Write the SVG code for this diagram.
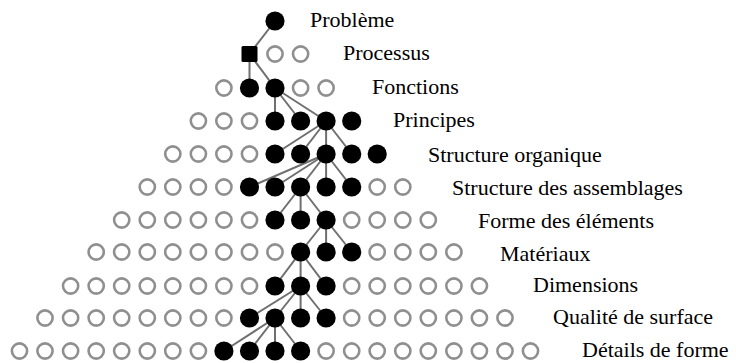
<svg xmlns="http://www.w3.org/2000/svg" xmlns:xlink="http://www.w3.org/1999/xlink" width="736" height="363" viewBox="0 0 736 363">
<style>
.h{fill:none;stroke:#8f8f8f;stroke-width:2.6}
.b{fill:#000}
.c{stroke:#6f6f6f;stroke-width:2;fill:none}
.t{font-family:"Liberation Serif","Times New Roman",serif;font-size:22px;fill:#000}
</style>
<defs>
<circle id="H" class="h" r="7.6"/>
<circle id="B" class="b" r="9.6"/>
</defs>
<rect width="736" height="363" fill="#fff"/>
<g id="connectors" class="c">
<line x1="275" y1="21" x2="249.5" y2="54"/>
<line x1="249.5" y1="54" x2="249.5" y2="88"/>
<line x1="249.5" y1="54" x2="275" y2="88"/>
<line x1="275" y1="88" x2="275" y2="121"/>
<line x1="275" y1="88" x2="300.6" y2="121"/>
<line x1="275" y1="88" x2="326.1" y2="121"/>
<line x1="326.1" y1="121" x2="275" y2="154"/>
<line x1="326.1" y1="121" x2="300.6" y2="154"/>
<line x1="326.1" y1="121" x2="326.1" y2="154"/>
<line x1="326.1" y1="121" x2="351.7" y2="154"/>
<line x1="326.1" y1="154" x2="249.5" y2="187"/>
<line x1="326.1" y1="154" x2="275" y2="187"/>
<line x1="326.1" y1="154" x2="300.6" y2="187"/>
<line x1="326.1" y1="154" x2="326.1" y2="187"/>
<line x1="326.1" y1="154" x2="351.7" y2="187"/>
<line x1="300.6" y1="187" x2="275" y2="220"/>
<line x1="300.6" y1="187" x2="300.6" y2="220"/>
<line x1="300.6" y1="187" x2="326.1" y2="220"/>
<line x1="326.1" y1="220" x2="300.6" y2="252"/>
<line x1="326.1" y1="220" x2="326.1" y2="252"/>
<line x1="326.1" y1="220" x2="351.7" y2="252"/>
<line x1="300.6" y1="252" x2="275" y2="286"/>
<line x1="300.6" y1="252" x2="300.6" y2="286"/>
<line x1="300.6" y1="252" x2="326.1" y2="286"/>
<line x1="300.6" y1="286" x2="249.5" y2="318"/>
<line x1="300.6" y1="286" x2="275" y2="318"/>
<line x1="300.6" y1="286" x2="300.6" y2="318"/>
<line x1="300.6" y1="286" x2="326.1" y2="318"/>
<line x1="275" y1="318" x2="223.9" y2="351"/>
<line x1="275" y1="318" x2="249.5" y2="351"/>
<line x1="275" y1="318" x2="275" y2="351"/>
<line x1="275" y1="318" x2="300.6" y2="351"/>
</g>
<g id="row0">
<g id="n0-10"><use xlink:href="#B" x="275" y="21"/></g>
</g>
<g id="row1">
<g id="n1-9"><rect class="b" x="241.5" y="46" width="16" height="16" rx="1.5"/></g>
<g id="n1-10"><use xlink:href="#H" x="275" y="54"/></g>
<g id="n1-11"><use xlink:href="#H" x="300.6" y="54"/></g>
</g>
<g id="row2">
<g id="n2-8"><use xlink:href="#H" x="223.9" y="88"/></g>
<g id="n2-9"><use xlink:href="#B" x="249.5" y="88"/></g>
<g id="n2-10"><use xlink:href="#B" x="275" y="88"/></g>
<g id="n2-11"><use xlink:href="#H" x="300.6" y="88"/></g>
<g id="n2-12"><use xlink:href="#H" x="326.1" y="88"/></g>
</g>
<g id="row3">
<g id="n3-7"><use xlink:href="#H" x="198.4" y="121"/></g>
<g id="n3-8"><use xlink:href="#H" x="223.9" y="121"/></g>
<g id="n3-9"><use xlink:href="#H" x="249.5" y="121"/></g>
<g id="n3-10"><use xlink:href="#B" x="275" y="121"/></g>
<g id="n3-11"><use xlink:href="#B" x="300.6" y="121"/></g>
<g id="n3-12"><use xlink:href="#B" x="326.1" y="121"/></g>
<g id="n3-13"><use xlink:href="#B" x="351.7" y="121"/></g>
</g>
<g id="row4">
<g id="n4-6"><use xlink:href="#H" x="172.8" y="154"/></g>
<g id="n4-7"><use xlink:href="#H" x="198.4" y="154"/></g>
<g id="n4-8"><use xlink:href="#H" x="223.9" y="154"/></g>
<g id="n4-9"><use xlink:href="#H" x="249.5" y="154"/></g>
<g id="n4-10"><use xlink:href="#B" x="275" y="154"/></g>
<g id="n4-11"><use xlink:href="#B" x="300.6" y="154"/></g>
<g id="n4-12"><use xlink:href="#B" x="326.1" y="154"/></g>
<g id="n4-13"><use xlink:href="#B" x="351.7" y="154"/></g>
<g id="n4-14"><use xlink:href="#B" x="377.2" y="154"/></g>
</g>
<g id="row5">
<g id="n5-5"><use xlink:href="#H" x="147.3" y="187"/></g>
<g id="n5-6"><use xlink:href="#H" x="172.8" y="187"/></g>
<g id="n5-7"><use xlink:href="#H" x="198.4" y="187"/></g>
<g id="n5-8"><use xlink:href="#H" x="223.9" y="187"/></g>
<g id="n5-9"><use xlink:href="#B" x="249.5" y="187"/></g>
<g id="n5-10"><use xlink:href="#B" x="275" y="187"/></g>
<g id="n5-11"><use xlink:href="#B" x="300.6" y="187"/></g>
<g id="n5-12"><use xlink:href="#B" x="326.1" y="187"/></g>
<g id="n5-13"><use xlink:href="#B" x="351.7" y="187"/></g>
<g id="n5-14"><use xlink:href="#H" x="377.2" y="187"/></g>
<g id="n5-15"><use xlink:href="#H" x="402.8" y="187"/></g>
</g>
<g id="row6">
<g id="n6-4"><use xlink:href="#H" x="121.7" y="220"/></g>
<g id="n6-5"><use xlink:href="#H" x="147.3" y="220"/></g>
<g id="n6-6"><use xlink:href="#H" x="172.8" y="220"/></g>
<g id="n6-7"><use xlink:href="#H" x="198.4" y="220"/></g>
<g id="n6-8"><use xlink:href="#H" x="223.9" y="220"/></g>
<g id="n6-9"><use xlink:href="#H" x="249.5" y="220"/></g>
<g id="n6-10"><use xlink:href="#B" x="275" y="220"/></g>
<g id="n6-11"><use xlink:href="#B" x="300.6" y="220"/></g>
<g id="n6-12"><use xlink:href="#B" x="326.1" y="220"/></g>
<g id="n6-13"><use xlink:href="#H" x="351.7" y="220"/></g>
<g id="n6-14"><use xlink:href="#H" x="377.2" y="220"/></g>
<g id="n6-15"><use xlink:href="#H" x="402.8" y="220"/></g>
<g id="n6-16"><use xlink:href="#H" x="428.3" y="220"/></g>
</g>
<g id="row7">
<g id="n7-3"><use xlink:href="#H" x="96.2" y="252"/></g>
<g id="n7-4"><use xlink:href="#H" x="121.7" y="252"/></g>
<g id="n7-5"><use xlink:href="#H" x="147.3" y="252"/></g>
<g id="n7-6"><use xlink:href="#H" x="172.8" y="252"/></g>
<g id="n7-7"><use xlink:href="#H" x="198.4" y="252"/></g>
<g id="n7-8"><use xlink:href="#H" x="223.9" y="252"/></g>
<g id="n7-9"><use xlink:href="#H" x="249.5" y="252"/></g>
<g id="n7-10"><use xlink:href="#H" x="275" y="252"/></g>
<g id="n7-11"><use xlink:href="#B" x="300.6" y="252"/></g>
<g id="n7-12"><use xlink:href="#B" x="326.1" y="252"/></g>
<g id="n7-13"><use xlink:href="#B" x="351.7" y="252"/></g>
<g id="n7-14"><use xlink:href="#H" x="377.2" y="252"/></g>
<g id="n7-15"><use xlink:href="#H" x="402.8" y="252"/></g>
<g id="n7-16"><use xlink:href="#H" x="428.3" y="252"/></g>
<g id="n7-17"><use xlink:href="#H" x="453.9" y="252"/></g>
</g>
<g id="row8">
<g id="n8-2"><use xlink:href="#H" x="70.6" y="286"/></g>
<g id="n8-3"><use xlink:href="#H" x="96.2" y="286"/></g>
<g id="n8-4"><use xlink:href="#H" x="121.7" y="286"/></g>
<g id="n8-5"><use xlink:href="#H" x="147.3" y="286"/></g>
<g id="n8-6"><use xlink:href="#H" x="172.8" y="286"/></g>
<g id="n8-7"><use xlink:href="#H" x="198.4" y="286"/></g>
<g id="n8-8"><use xlink:href="#H" x="223.9" y="286"/></g>
<g id="n8-9"><use xlink:href="#H" x="249.5" y="286"/></g>
<g id="n8-10"><use xlink:href="#B" x="275" y="286"/></g>
<g id="n8-11"><use xlink:href="#B" x="300.6" y="286"/></g>
<g id="n8-12"><use xlink:href="#B" x="326.1" y="286"/></g>
<g id="n8-13"><use xlink:href="#H" x="351.7" y="286"/></g>
<g id="n8-14"><use xlink:href="#H" x="377.2" y="286"/></g>
<g id="n8-15"><use xlink:href="#H" x="402.8" y="286"/></g>
<g id="n8-16"><use xlink:href="#H" x="428.3" y="286"/></g>
<g id="n8-17"><use xlink:href="#H" x="453.9" y="286"/></g>
<g id="n8-18"><use xlink:href="#H" x="479.4" y="286"/></g>
</g>
<g id="row9">
<g id="n9-1"><use xlink:href="#H" x="45" y="318"/></g>
<g id="n9-2"><use xlink:href="#H" x="70.6" y="318"/></g>
<g id="n9-3"><use xlink:href="#H" x="96.2" y="318"/></g>
<g id="n9-4"><use xlink:href="#H" x="121.7" y="318"/></g>
<g id="n9-5"><use xlink:href="#H" x="147.3" y="318"/></g>
<g id="n9-6"><use xlink:href="#H" x="172.8" y="318"/></g>
<g id="n9-7"><use xlink:href="#H" x="198.4" y="318"/></g>
<g id="n9-8"><use xlink:href="#H" x="223.9" y="318"/></g>
<g id="n9-9"><use xlink:href="#B" x="249.5" y="318"/></g>
<g id="n9-10"><use xlink:href="#B" x="275" y="318"/></g>
<g id="n9-11"><use xlink:href="#B" x="300.6" y="318"/></g>
<g id="n9-12"><use xlink:href="#B" x="326.1" y="318"/></g>
<g id="n9-13"><use xlink:href="#H" x="351.7" y="318"/></g>
<g id="n9-14"><use xlink:href="#H" x="377.2" y="318"/></g>
<g id="n9-15"><use xlink:href="#H" x="402.8" y="318"/></g>
<g id="n9-16"><use xlink:href="#H" x="428.3" y="318"/></g>
<g id="n9-17"><use xlink:href="#H" x="453.9" y="318"/></g>
<g id="n9-18"><use xlink:href="#H" x="479.4" y="318"/></g>
<g id="n9-19"><use xlink:href="#H" x="505" y="318"/></g>
</g>
<g id="row10">
<g id="n10-0"><use xlink:href="#H" x="19.5" y="351"/></g>
<g id="n10-1"><use xlink:href="#H" x="45" y="351"/></g>
<g id="n10-2"><use xlink:href="#H" x="70.6" y="351"/></g>
<g id="n10-3"><use xlink:href="#H" x="96.2" y="351"/></g>
<g id="n10-4"><use xlink:href="#H" x="121.7" y="351"/></g>
<g id="n10-5"><use xlink:href="#H" x="147.3" y="351"/></g>
<g id="n10-6"><use xlink:href="#H" x="172.8" y="351"/></g>
<g id="n10-7"><use xlink:href="#H" x="198.4" y="351"/></g>
<g id="n10-8"><use xlink:href="#B" x="223.9" y="351"/></g>
<g id="n10-9"><use xlink:href="#B" x="249.5" y="351"/></g>
<g id="n10-10"><use xlink:href="#B" x="275" y="351"/></g>
<g id="n10-11"><use xlink:href="#B" x="300.6" y="351"/></g>
<g id="n10-12"><use xlink:href="#H" x="326.1" y="351"/></g>
<g id="n10-13"><use xlink:href="#H" x="351.7" y="351"/></g>
<g id="n10-14"><use xlink:href="#H" x="377.2" y="351"/></g>
<g id="n10-15"><use xlink:href="#H" x="402.8" y="351"/></g>
<g id="n10-16"><use xlink:href="#H" x="428.3" y="351"/></g>
<g id="n10-17"><use xlink:href="#H" x="453.9" y="351"/></g>
<g id="n10-18"><use xlink:href="#H" x="479.4" y="351"/></g>
<g id="n10-19"><use xlink:href="#H" x="505" y="351"/></g>
<g id="n10-20"><use xlink:href="#H" x="530.5" y="351"/></g>
</g>
<g id="labels" class="t">
<text x="310" y="27">Problème</text>
<text x="343" y="60">Processus</text>
<text x="372" y="94">Fonctions</text>
<text x="393" y="127">Principes</text>
<text x="428" y="162">Structure organique</text>
<text x="452" y="195">Structure des assemblages</text>
<text x="478" y="228">Forme des éléments</text>
<text x="500" y="261">Matériaux</text>
<text x="533" y="292">Dimensions</text>
<text x="553" y="324">Qualité de surface</text>
<text x="582" y="357">Détails de forme</text>
</g>
</svg>
